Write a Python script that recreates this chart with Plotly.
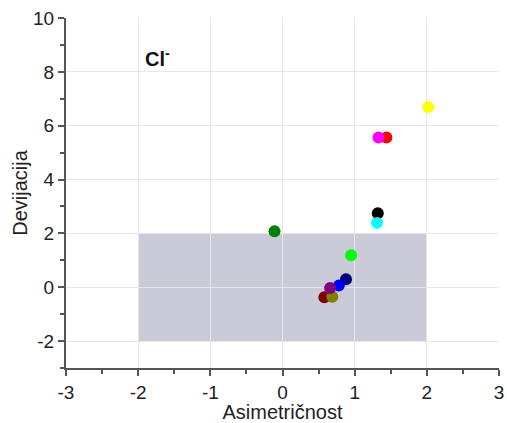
import plotly.graph_objects as go

asym = [2.02, 1.33, 1.44, 1.32, 1.31, -0.11, 0.95, 0.88, 0.78, 0.66, 0.69, 0.58]
dev = [6.69, 5.56, 5.56, 2.75, 2.39, 2.08, 1.19, 0.30, 0.06, -0.03, -0.35, -0.37]
colors = ["#ffff00", "#ff00ff", "#ff0000", "#000000", "#00ffff", "#008000",
          "#00ff00", "#000080", "#0000ff", "#800080", "#808000", "#800000"]
x_ticks = [-3, -2, -1, 0, 1, 2, 3]
x_ticklabels = ["-3", "-2", "-1", "0", "1", "2", "3"]
y_ticks = [-2, 0, 2, 4, 6, 8, 10]
y_ticklabels = ["-2", "0", "2", "4", "6", "8", "10"]

# draw order: red before magenta so magenta sits on top like reference
order = [0, 2, 1, 3, 4, 5, 6, 7, 8, 11, 10, 9]
xs = [asym[i] for i in order]
ys = [dev[i] for i in order]
cs = [colors[i] for i in order]

FONT = "Arial, Liberation Sans, sans-serif"

fig = go.Figure()
fig.add_shape(type="rect", x0=-2, x1=2, y0=-2, y1=2, xref="x", yref="y",
              fillcolor="rgb(203,202,217)", line_width=0, layer="below")
fig.add_trace(go.Scatter(x=xs, y=ys, mode="markers",
                         marker=dict(size=12, color=cs, line_width=0),
                         showlegend=False, hoverinfo="skip"))
fig.add_annotation(x=-1.73, y=8.55, xref="x", yref="y", text="<b>Cl<sup>-</sup></b>",
                   showarrow=False, font=dict(size=20, color="#111", family=FONT))

axis_common = dict(showline=True, linecolor="#555", linewidth=2, ticks="outside",
                   ticklen=6, tickwidth=1.5, tickcolor="#555", showgrid=True,
                   gridcolor="#e6e6e6", gridwidth=1, zeroline=False, mirror=False,
                   automargin=False,
                   tickfont=dict(size=19, color="#222", family=FONT))
fig.update_xaxes(range=[-3, 3], tickmode="array", tickvals=x_ticks, ticktext=x_ticklabels,
                 minor=dict(dtick=0.5, tick0=-3, ticks="outside", ticklen=4, tickcolor="#555", showgrid=False),
                 title=dict(text="Asimetričnost", font=dict(size=20, color="#222", family=FONT), standoff=0),
                 **axis_common)
fig.update_yaxes(range=[-3, 10], tickmode="array", tickvals=y_ticks, ticktext=y_ticklabels,
                 minor=dict(dtick=1, tick0=-3, ticks="outside", ticklen=4, tickcolor="#555", showgrid=False),
                 title=dict(text="Devijacija", font=dict(size=20, color="#222", family=FONT), standoff=0),
                 **axis_common)
fig.update_layout(width=507, height=423, margin=dict(l=66, r=8, t=18, b=55),
                  plot_bgcolor="white", paper_bgcolor="white",
                  font=dict(family=FONT))
fig.write_html("out.html", config={"displayModeBar": False},
               post_script="document.body.style.margin='0';document.body.style.overflow='hidden';")
